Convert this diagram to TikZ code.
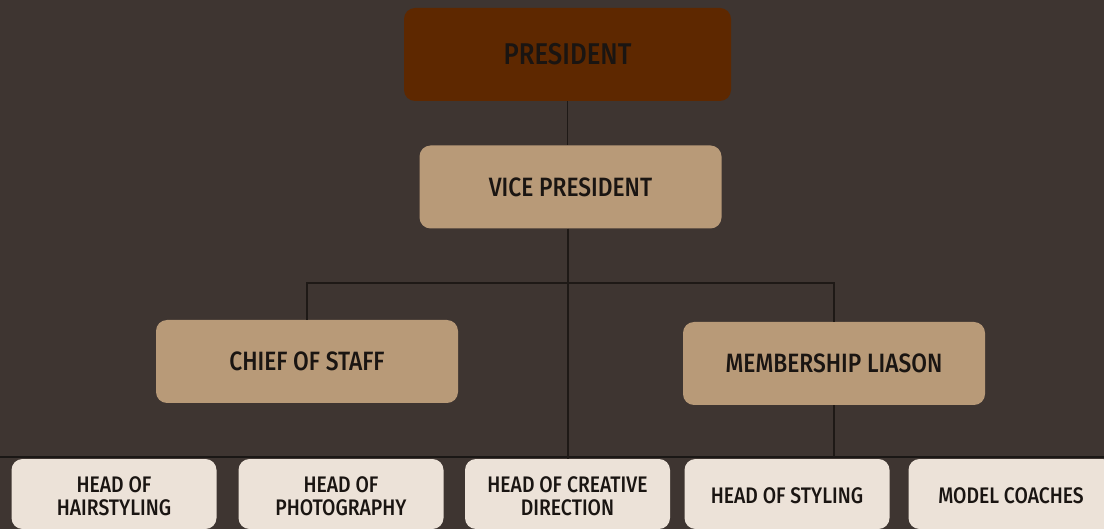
\documentclass[tikz,border=0pt]{standalone}
\usepackage{fontspec}
\setmainfont{Fira Sans}[FakeStretch=0.86, BoldFont={Fira Sans Medium}, BoldFeatures={FakeStretch=0.86}]
\definecolor{bg}{HTML}{3E3531}
\definecolor{presfill}{HTML}{5E2800}
\definecolor{midfill}{HTML}{B89A78}
\definecolor{lowfill}{HTML}{ECE2D8}
\definecolor{ink}{HTML}{1A1512}
\definecolor{wire}{HTML}{1E1916}
\tikzset{
  box/.style={rounded corners=11pt, inner sep=0pt, align=center, text=ink, font=\bfseries\fontsize{26.5}{28}\selectfont},
  presbox/.style={box, fill=presfill, minimum width=327pt, minimum height=93pt, font=\bfseries\fontsize{30}{32}\selectfont},
  midbox/.style={box, fill=midfill, minimum width=302pt, minimum height=83pt},
  lowbox/.style={box, fill=lowfill, minimum width=205pt, minimum height=70pt},
  lowtext/.style={font=\bfseries\fontsize{22.5}{22.5}\selectfont},
  wireline/.style={draw=wire, line width=1.4pt}
}
\begin{document}
\begin{tikzpicture}[x=1pt,y=-1pt]
\fill[bg] (0,0) rectangle (1104,529);
\useasboundingbox (0,0) rectangle (1104,529);
\coordinate (bus) at (568,283);
\coordinate (busL) at (0,457);
\coordinate (busR) at (1104,457);
\draw[draw=black!80!bg, line width=2pt, opacity=0.7] (busL) -- (busR);
\node[presbox] (pres) at (567.5,54.5) {PRESIDENT};
\node[midbox] (vp) at (570.5,187) {VICE PRESIDENT};
\node[midbox] (cos) at (307,361.5) {CHIEF OF STAFF};
\node[midbox] (ml) at (834,363.5) {MEMBERSHIP LIASON};
\node[lowbox] (h1) at (114,494) {};
\node[lowbox] (h2) at (341,494) {};
\node[lowbox] (h3) at (567.5,494) {};
\node[lowbox] (h4) at (787,494) {};
\node[lowbox] (h5) at (1011,494) {};
\node[box, lowtext] (t1) at (114,496) {HEAD OF\\HAIRSTYLING};
\node[box, lowtext] (t2) at (341,496) {HEAD OF\\PHOTOGRAPHY};
\node[box, lowtext] (t3) at (567.5,496) {HEAD OF CREATIVE\\DIRECTION};
\node[box, lowtext] (t4) at (787,496) {HEAD OF STYLING};
\node[box, lowtext] (t5) at (1011,496) {MODEL COACHES};
\draw[wireline] (pres.south) -- (pres.south |- vp.north);
\draw[wireline] (bus |- vp.south) -- (bus |- h3.north);
\draw[wireline] (cos.north) |- (bus) -| (ml.north);
\draw[wireline] (ml.south) -- (ml.south |- busL);
\end{tikzpicture}
\end{document}
